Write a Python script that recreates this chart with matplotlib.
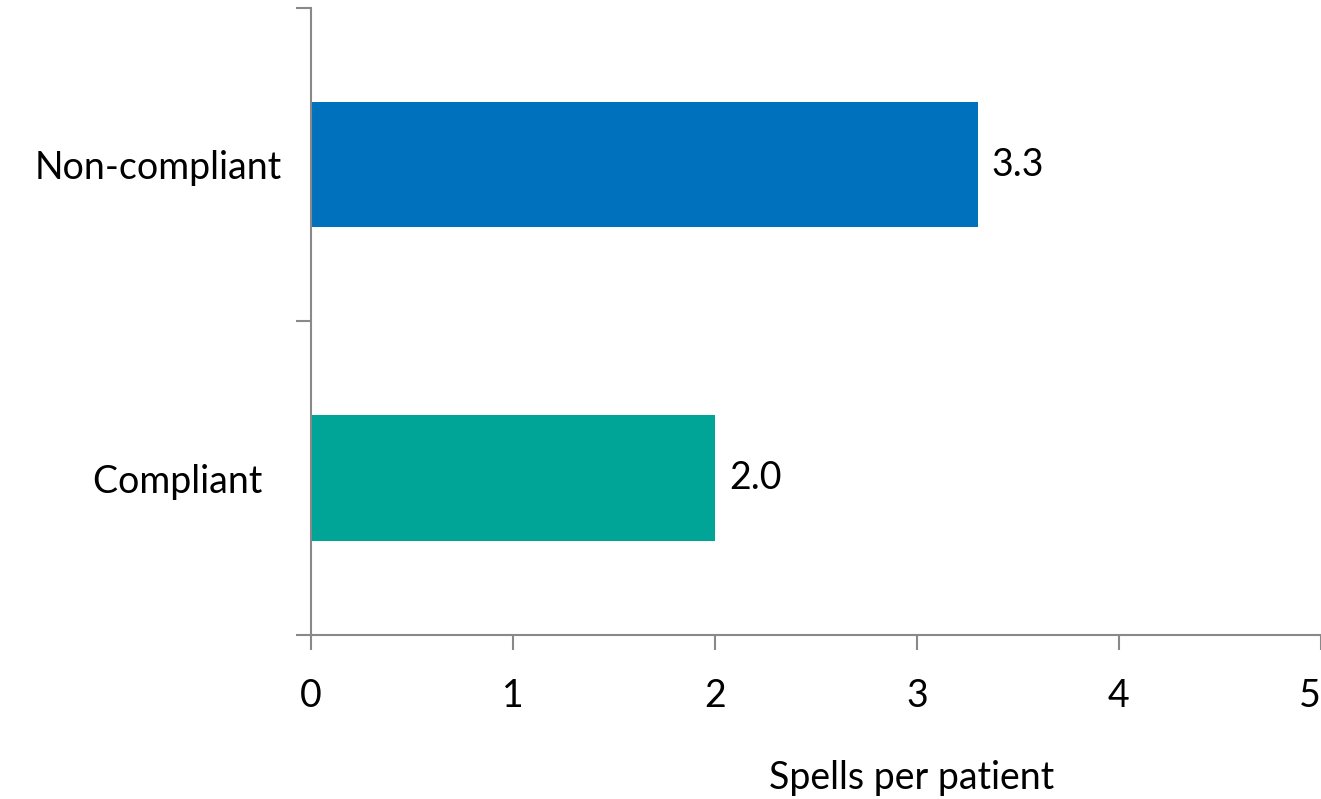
import matplotlib.pyplot as plt
import numpy as np

categories = ["Compliant", "Non-compliant"]
values = [2.0, 3.3]
colors = ["#00A597", "#0071BC"]
xticks = [0, 1, 2, 3, 4, 5]

plt.rcParams['font.family'] = ['Lato', 'DejaVu Sans']
fs = 27

fig = plt.figure(figsize=(13.21, 7.99), dpi=100)
ax = fig.add_axes([0.2354, 0.2053, 0.7646, 0.785])

pos = np.arange(len(categories))
bars = ax.barh(pos, values, height=0.4, color=colors)
for p, v in zip(pos, values):
    ax.text(v + 0.07, p, f"{v:.1f}", va='center', ha='left', fontsize=fs)

ax.set_xlim(0, 5)
ax.set_ylim(-0.5, 1.5)
ax.set_xticks(xticks)
ax.set_xticklabels([str(t) for t in xticks], fontsize=fs)
ax.get_xticklabels()[-1].set_horizontalalignment('right')

# category boundary ticks, labels in between
ax.set_yticks([-0.5, 0.5, 1.5])
ax.set_yticklabels([])
ax.set_yticks(pos, minor=True)
ax.set_yticklabels(["Compliant  ", "Non-compliant"], minor=True, fontsize=fs)
ax.tick_params(axis='y', which='minor', length=0, pad=21)
ax.tick_params(axis='y', which='major', length=11, color='#898989', width=1.5)
ax.tick_params(axis='x', length=11, color='#898989', width=1.5, pad=20)

for s in ['top', 'right']:
    ax.spines[s].set_visible(False)
for s in ['left', 'bottom']:
    ax.spines[s].set_color('#898989')
    ax.spines[s].set_linewidth(1.5)

ax.set_xlabel("Spells per patient", fontsize=fs)
ax.xaxis.set_label_coords(0.595, -0.2)

fig.savefig("out.png", dpi=100)
